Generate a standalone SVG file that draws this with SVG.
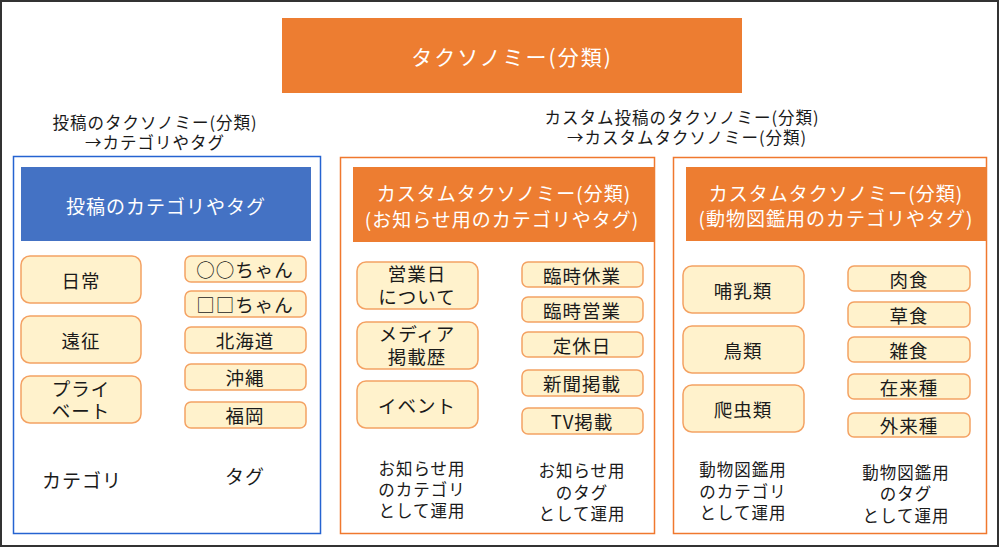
<svg xmlns="http://www.w3.org/2000/svg" width="1000" height="548" viewBox="0 0 1000 548">
<style>
text{font-family:"Noto Sans CJK JP","Noto Sans",sans-serif;text-anchor:middle;dominant-baseline:central;fill:#1a1a1a;letter-spacing:1px}
.w{fill:#ffffff}
.item{fill:#FFF2CC;stroke:#F4A263;stroke-width:1.5}
.t18{font-size:18.5px}
.t17{font-size:16.5px}
.t19{font-size:19px}
.t20{font-size:21px;letter-spacing:2px}
</style>
<rect x="1" y="1" width="997" height="545" fill="#ffffff" stroke="#333333" stroke-width="2"/>
<g id="title">
<rect x="282" y="18" width="460" height="75" fill="#ED7D31"/>
<text class="w t20" x="512" y="56">タクソノミー(分類)</text>
</g>
<g id="note-left" class="t17">
<text x="155" y="122"><tspan x="155" y="122">投稿のタクソノミー(分類)</tspan><tspan x="155" y="142">→カテゴリやタグ</tspan></text>
</g>
<g id="note-right" class="t17">
<text x="682" y="117"><tspan x="682" y="117">カスタム投稿のタクソノミー(分類)</tspan><tspan x="687" y="137">→カスタムタクソノミー(分類)</tspan></text>
</g>
<g id="panel-post">
<rect x="13.5" y="156.5" width="307" height="377" fill="none" stroke="#2563D1" stroke-width="1.5"/>
<rect x="21" y="167" width="290" height="74" fill="#4472C4"/>
<text class="w t19" x="166" y="205">投稿のカテゴリやタグ</text>
</g>
<g id="post-cat" class="t18">
<rect class="item" x="21" y="256" width="120" height="47" rx="9"/><text x="81" y="279.5">日常</text>
<rect class="item" x="21" y="316" width="120" height="47" rx="9"/><text x="81" y="339.5">遠征</text>
<rect class="item" x="21" y="376" width="120" height="47" rx="9"/><text x="81" y="388"><tspan x="81" y="388">プライ</tspan><tspan x="81" y="410">ベート</tspan></text>
</g>
<g id="post-tag" class="t18">
<rect class="item" x="185" y="256" width="121" height="26" rx="6"/><text x="245" y="269">○○ちゃん</text>
<rect class="item" x="185" y="291" width="121" height="26" rx="6"/><text x="245" y="304">□□ちゃん</text>
<rect class="item" x="185" y="327" width="121" height="26" rx="6"/><text x="245" y="340">北海道</text>
<rect class="item" x="185" y="364" width="121" height="26" rx="6"/><text x="245" y="377">沖縄</text>
<rect class="item" x="185" y="402" width="121" height="26" rx="6"/><text x="245" y="415">福岡</text>
</g>
<g id="post-labels" class="t19">
<text x="82" y="479">カテゴリ</text>
<text x="245" y="475">タグ</text>
</g>
<g id="panel-news">
<rect x="340.5" y="157.5" width="314" height="376" fill="none" stroke="#F0782E" stroke-width="1.5"/>
<rect x="353" y="167" width="302" height="75" fill="#ED7D31"/>
<text class="w t19" x="504" y="192"><tspan x="504" y="192">カスタムタクソノミー(分類)</tspan><tspan x="502" y="218">(お知らせ用のカテゴリやタグ)</tspan></text>
</g>
<g id="news-cat" class="t18">
<rect class="item" x="357" y="262" width="121" height="47" rx="9"/><text x="417" y="273"><tspan x="417" y="273">営業日</tspan><tspan x="417" y="296">について</tspan></text>
<rect class="item" x="357" y="322" width="121" height="47" rx="9"/><text x="417" y="333"><tspan x="417" y="333">メディア</tspan><tspan x="417" y="356">掲載歴</tspan></text>
<rect class="item" x="357" y="381" width="121" height="47" rx="9"/><text x="417" y="404.5">イベント</text>
</g>
<g id="news-tag" class="t18">
<rect class="item" x="522" y="262" width="121" height="25" rx="6"/><text x="582" y="274.5">臨時休業</text>
<rect class="item" x="522" y="297" width="121" height="25" rx="6"/><text x="582" y="309.5">臨時営業</text>
<rect class="item" x="522" y="332" width="121" height="25" rx="6"/><text x="582" y="344.5">定休日</text>
<rect class="item" x="522" y="370" width="121" height="26" rx="6"/><text x="582" y="383">新聞掲載</text>
<rect class="item" x="522" y="408" width="121" height="26" rx="6"/><text x="582" y="421">TV掲載</text>
</g>
<g id="news-labels" class="t17">
<text x="422" y="468"><tspan x="422" y="468">お知らせ用</tspan><tspan x="422" y="489">のカテゴリ</tspan><tspan x="422" y="510">として運用</tspan></text>
<text x="582" y="470"><tspan x="582" y="470">お知らせ用</tspan><tspan x="582" y="492">のタグ</tspan><tspan x="582" y="513">として運用</tspan></text>
</g>
<g id="panel-zoo">
<rect x="673.5" y="157.5" width="313" height="376" fill="none" stroke="#F0782E" stroke-width="1.5"/>
<rect x="686" y="167" width="301" height="74" fill="#ED7D31"/>
<text class="w t19" x="836" y="192"><tspan x="836" y="192">カスタムタクソノミー(分類)</tspan><tspan x="836" y="217">(動物図鑑用のカテゴリやタグ)</tspan></text>
</g>
<g id="zoo-cat" class="t18">
<rect class="item" x="683" y="266" width="121" height="47" rx="9"/><text x="743" y="289.5">哺乳類</text>
<rect class="item" x="683" y="326" width="121" height="47" rx="9"/><text x="743" y="349.5">鳥類</text>
<rect class="item" x="683" y="385" width="121" height="47" rx="9"/><text x="743" y="408.5">爬虫類</text>
</g>
<g id="zoo-tag" class="t18">
<rect class="item" x="848" y="266" width="122" height="25" rx="6"/><text x="909" y="278.5">肉食</text>
<rect class="item" x="848" y="302" width="122" height="25" rx="6"/><text x="909" y="314.5">草食</text>
<rect class="item" x="848" y="337" width="122" height="25" rx="6"/><text x="909" y="349.5">雑食</text>
<rect class="item" x="848" y="374" width="122" height="25" rx="6"/><text x="909" y="386.5">在来種</text>
<rect class="item" x="848" y="413" width="122" height="24" rx="6"/><text x="909" y="425">外来種</text>
</g>
<g id="zoo-labels" class="t17">
<text x="743" y="469"><tspan x="743" y="469">動物図鑑用</tspan><tspan x="743" y="491">のカテゴリ</tspan><tspan x="743" y="512">として運用</tspan></text>
<text x="906" y="472"><tspan x="906" y="472">動物図鑑用</tspan><tspan x="906" y="493">のタグ</tspan><tspan x="906" y="515">として運用</tspan></text>
</g>
<g id="connectors"></g>
</svg>
